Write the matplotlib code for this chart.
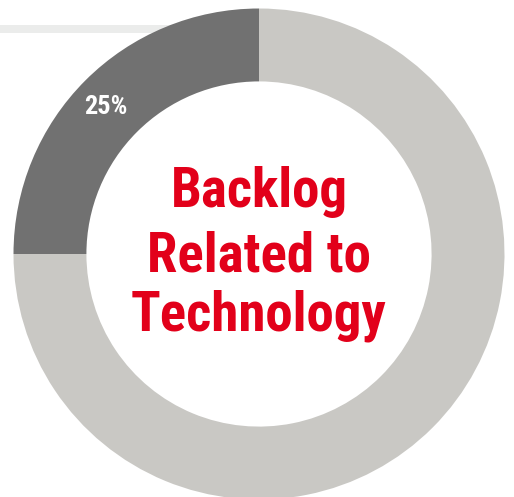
import matplotlib
matplotlib.use("Agg")
import matplotlib.pyplot as plt
from matplotlib.patches import Rectangle

# data
labels = ["Related to technology", "Other"]
shares = [25, 75]
colors = ["#717171", "#c9c8c4"]
center_lines = ["Backlog", "Related to", "Technology"]

W, H = 514, 497
fig = plt.figure(figsize=(W / 100, H / 100), dpi=100)
fig.patch.set_facecolor("white")

# thin grey rule at the top left, behind the ring
fig.add_artist(Rectangle((0, 1 - 33 / H), 250 / W, 8 / H, transform=fig.transFigure,
                         facecolor="#ebeceb", edgecolor="none", zorder=0))

# ring: circle spans x 13.5..504.5, y 8.5..499.5 (px from top)
cx, cy, r = 259, 254, 245.5
ax = fig.add_axes([(cx - r) / W, (H - cy - r) / H, 2 * r / W, 2 * r / H])
ax.set_zorder(1)
ax.patch.set_visible(False)

wedges, _ = ax.pie(shares, colors=colors, startangle=90, counterclock=True,
                   radius=1, wedgeprops=dict(width=0.297, edgecolor="none", linewidth=0))
ax.set_xlim(-1, 1)
ax.set_ylim(-1, 1)
ax.axis("off")

font = ["Roboto Condensed", "DejaVu Sans"]

# percentage label on the dark wedge
ax.text((106 - cx) / r, (cy - 106.5) / r, f"{shares[0]}%", color="white",
        fontsize=19, fontweight="bold", family=font, ha="center", va="center")

# centre title
baselines = [207, 271, 330]
for line, b in zip(center_lines, baselines):
    ax.text(0, (cy - b) / r, line, color="#e2001a", fontsize=39.5, fontweight="bold",
            family=font, ha="center", va="baseline")

fig.savefig("out.png", dpi=100, facecolor="white")
